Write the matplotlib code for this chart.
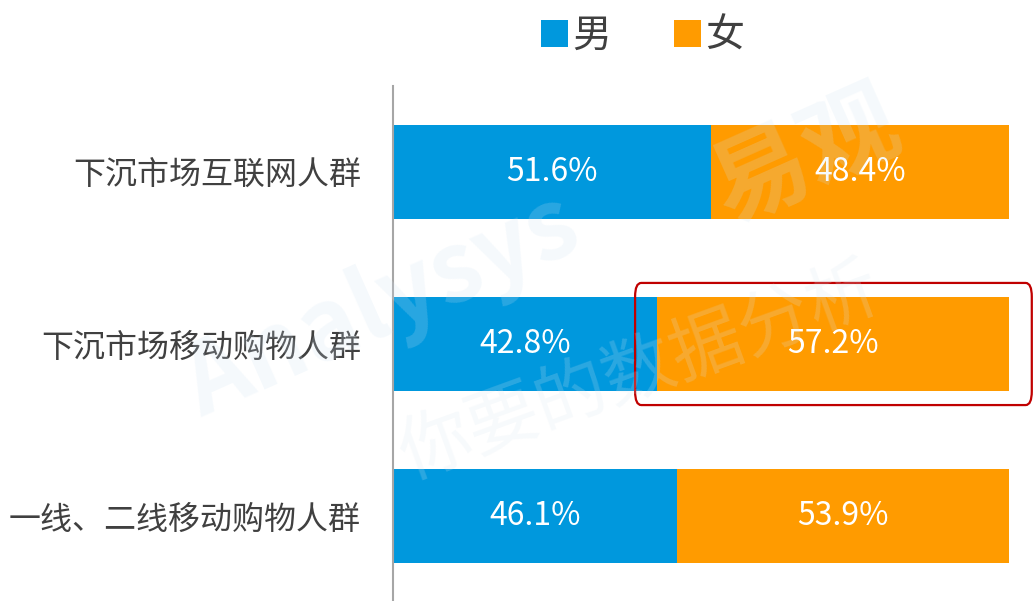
import numpy as np
import matplotlib.pyplot as plt
from matplotlib.patches import FancyBboxPatch

plt.rcParams['font.family'] = ['Noto Sans CJK SC', 'DejaVu Sans']

categories = ['下沉市场互联网人群', '下沉市场移动购物人群', '一线、二线移动购物人群']
male = [0.516, 0.428, 0.461]
female = [0.484, 0.572, 0.539]
series_names = ['男', '女']
highlight_idx = 1

BLUE = '#0098DD'
ORANGE = '#FF9B00'
TEXT = '#404040'

fig = plt.figure(figsize=(10.33, 6.01), dpi=100)
ax = fig.add_axes([393 / 1033, -1 / 601, 616 / 1033, 516 / 601])

y = np.arange(len(categories))
h = 0.547
b1 = ax.barh(y, male, height=h, color=BLUE, label=series_names[0])
b2 = ax.barh(y, female, left=male, height=h, color=ORANGE, label=series_names[1])

for i in range(len(categories)):
    ax.text(male[i] / 2, y[i], f'{male[i] * 100:.1f}%', ha='center', va='center',
            color='white', fontsize=23)
    ax.text(male[i] + female[i] / 2, y[i], f'{female[i] * 100:.1f}%', ha='center',
            va='center', color='white', fontsize=23)

ax.set_xlim(0, 1)
ax.set_ylim(len(categories) - 0.5, -0.5)
ax.set_yticks(y)
ax.set_yticklabels(categories, fontsize=23, color=TEXT)
ax.tick_params(axis='y', length=0, pad=23)
ax.set_xticks([])
for s in ['top', 'right', 'bottom']:
    ax.spines[s].set_visible(False)
ax.spines['left'].set_color('#a6a6a6')
ax.spines['left'].set_linewidth(1.5)

# red highlight box around the female share of the middle group
x0 = male[highlight_idx] - 0.035
box = FancyBboxPatch((x0, highlight_idx - 0.355), 1.037 - x0, 0.71,
                     boxstyle='round,pad=0,rounding_size=0.01',
                     fill=False, edgecolor='#C00000', linewidth=1.6, clip_on=False,
                     zorder=5, mutation_aspect=8)
ax.add_patch(box)

leg = fig.legend(handles=[b1, b2], loc='upper center', bbox_to_anchor=(0.622, 1.032),
                 ncol=2, frameon=False, fontsize=28, handlelength=0.7, handleheight=0.7,
                 columnspacing=1.6, handletextpad=0.12)
for t in leg.get_texts():
    t.set_color(TEXT)

# faint watermark
fig.text(0.37, 0.49, 'Analysys', fontsize=70, color='#cfe3f3', alpha=0.2,
         rotation=24, ha='center', va='center', fontweight='bold', zorder=10)
fig.text(0.78, 0.74, '易观', fontsize=70, color='#cfe3f3', alpha=0.2,
         rotation=24, ha='center', va='center', fontweight='bold', zorder=10)
fig.text(0.62, 0.38, '你要的数据分析', fontsize=52, color='#d9e6f0', alpha=0.2,
         rotation=20, ha='center', va='center', zorder=10)

fig.savefig('out.png', dpi=100)
